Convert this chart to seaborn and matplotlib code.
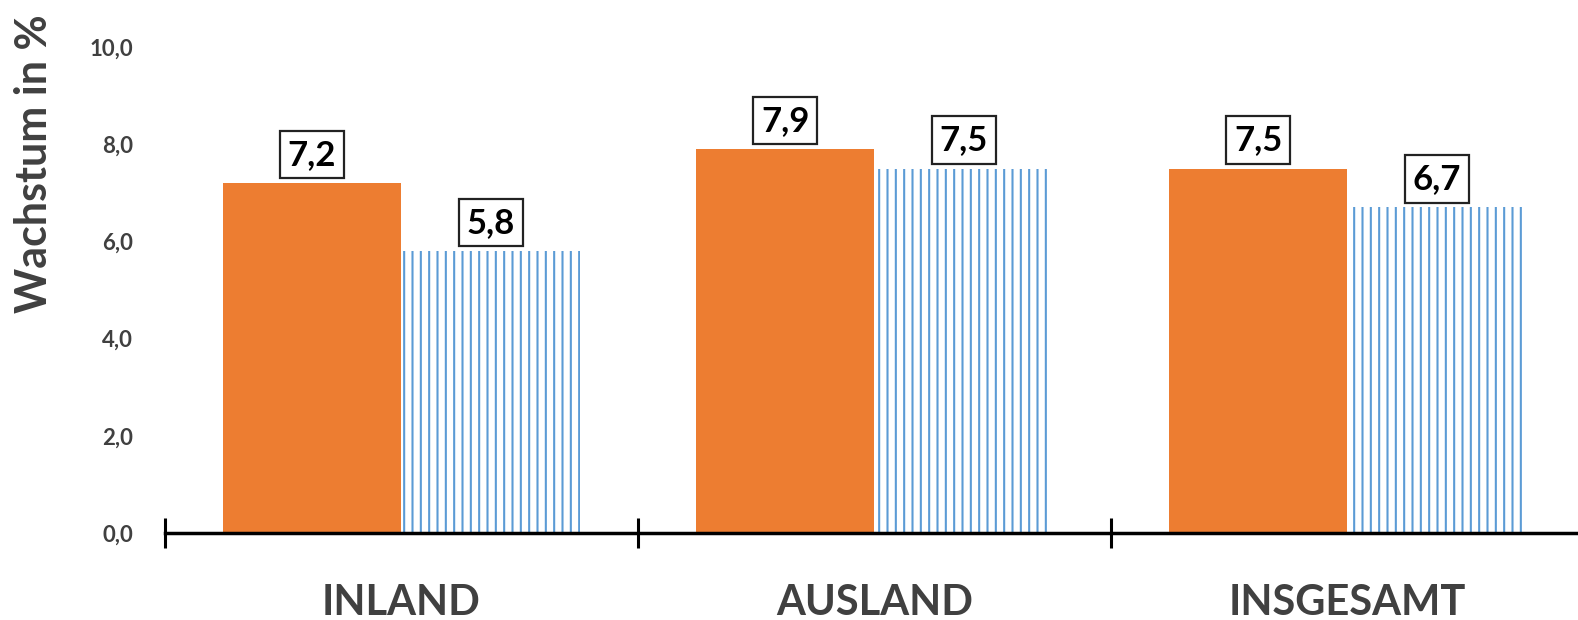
import matplotlib
matplotlib.use("Agg")
import matplotlib.pyplot as plt
import seaborn as sns
import pandas as pd
from matplotlib.ticker import FuncFormatter, FixedLocator

categories = ["INLAND", "AUSLAND", "INSGESAMT"]
series_names = ["Serie 1", "Serie 2"]
series_a = [7.2, 7.9, 7.5]
series_b = [5.8, 7.5, 6.7]

ORANGE = "#ED7D31"
BLUE = "#5B9BD5"
GRAY = "#404040"

sns.set_style("white")
plt.rcParams["font.family"] = ["Lato", "DejaVu Sans"]
plt.rcParams["hatch.linewidth"] = 1.5

df = pd.DataFrame({
    "Bereich": categories * 2,
    "Serie": [series_names[0]] * 3 + [series_names[1]] * 3,
    "Wachstum": series_a + series_b,
})

fig = plt.figure(figsize=(15.78, 6.2), dpi=100)
ax = fig.add_axes([165 / 1578, 87 / 620, 1419 / 1578, 486 / 620])

sns.barplot(data=df, x="Bereich", y="Wachstum", hue="Serie",
            palette=[ORANGE, "white"], width=0.756, legend=False,
            saturation=1, ax=ax, linewidth=0)

for p in ax.containers[1]:
    p.set_facecolor("white")
    p.set_edgecolor(BLUE)
    p.set_hatch("||")
    p.set_linewidth(0)

ax.set_ylim(0, 10)
ax.set_xlim(-0.5, 2.5)
ax.set_yticks([0, 2, 4, 6, 8, 10])
ax.yaxis.set_major_formatter(FuncFormatter(lambda v, _: f"{v:.1f}".replace(".", ",")))
for lab in ax.get_yticklabels():
    lab.set_fontweight("bold")
ax.tick_params(axis="y", length=0, pad=23, labelsize=16, labelcolor=GRAY)

ax.xaxis.set_minor_locator(FixedLocator([-0.5, 0.5, 1.5, 2.5]))
ax.tick_params(axis="x", which="major", length=0, pad=37, labelsize=30, labelcolor=GRAY)
ax.tick_params(axis="x", which="minor", direction="inout", length=21, width=2.2, color="black", bottom=True)
for lab in ax.get_xticklabels():
    lab.set_fontweight("bold")

for s in ["top", "right", "left"]:
    ax.spines[s].set_visible(False)
ax.spines["bottom"].set_linewidth(2.5)
ax.spines["bottom"].set_color("black")

ax.set_xlabel("")
ax.set_ylabel("Wachstum in %", fontsize=31, fontweight="bold", color=GRAY)
ax.yaxis.set_label_coords(-0.092, 0.76)
ax.yaxis.label.set_va("center")

for cont in ax.containers:
    for p in cont:
        h = p.get_height()
        ax.annotate(f"{h:.1f}".replace(".", ","),
                    (p.get_x() + p.get_width() / 2, h),
                    xytext=(0, 9), textcoords="offset points",
                    ha="center", va="bottom", fontsize=25, fontweight="bold",
                    color="black",
                    bbox=dict(boxstyle="square,pad=0.22", fc="white", ec="#222222", lw=1.6))

fig.savefig("out.png", dpi=100)
